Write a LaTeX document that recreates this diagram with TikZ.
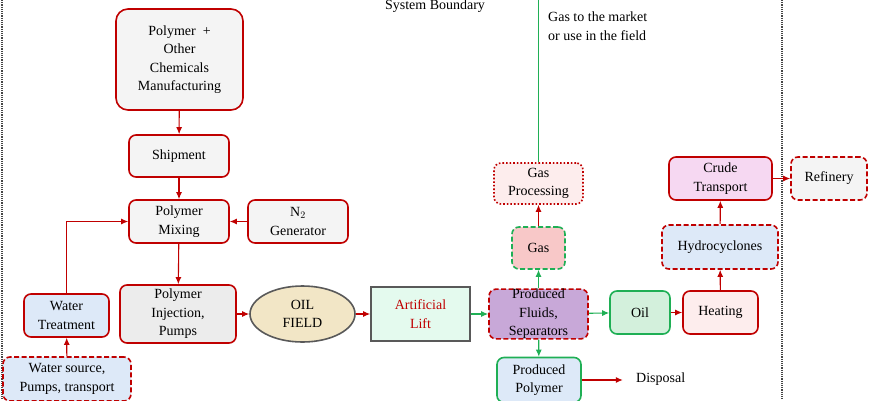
\documentclass[tikz,border=0pt]{standalone}
\usepackage{fontspec}
\setmainfont{Liberation Serif}
\usetikzlibrary{arrows.meta,shapes.geometric}

\definecolor{bred}{HTML}{C00000}
\definecolor{bgreen}{HTML}{1FAF55}
\definecolor{fgray}{HTML}{F4F4F4}
\definecolor{fgray2}{HTML}{ECECEC}
\definecolor{fblue}{HTML}{DDE9F8}
\definecolor{fbeige}{HTML}{F2E6C6}
\definecolor{fmint}{HTML}{E4FAEE}
\definecolor{fpurple}{HTML}{C8A8D8}
\definecolor{fpink}{HTML}{F8C8C8}
\definecolor{flpink}{HTML}{FDEDED}
\definecolor{fgreen}{HTML}{D3F0DC}
\definecolor{fmagenta}{HTML}{F6D8F2}

\begin{document}
\begin{tikzpicture}[x=1pt,y=-1pt,
  every node/.style={font=\fontsize{14}{18.5}\selectfont, align=center, inner sep=0pt},
  redbox/.style={draw=bred, line width=1.6pt, rounded corners=7pt},
  greenbox/.style={draw=bgreen, line width=1.6pt, rounded corners=7pt},
  dashline/.style={dash pattern=on 5pt off 2.5pt},
  boundary/.style={gray!55!black, line width=1.8pt, dash pattern=on 1.2pt off 1pt},
  redarr/.style={draw=bred, line width=1.1pt, -{Latex[length=7pt,width=6pt]}},
  greenarr/.style={draw=bgreen, line width=1.1pt, -{Latex[length=7pt,width=6pt]}}]
\useasboundingbox (0,0) rectangle (870,400);

% system boundary
\draw[boundary] (2,0) -- (2,400);
\draw[boundary] (782,0) -- (782,400);
\node (sysb) at (435,6) {System Boundary};

% polymer side
\node[redbox, rounded corners=12pt, fill=fgray, minimum width=127pt, minimum height=101pt] (manuf) at (179.5,59.5) {Polymer \ +\\Other\\Chemicals\\Manufacturing};
\node[redbox, fill=fgray, minimum width=100pt, minimum height=42pt] (ship) at (179,156) {Shipment};
\node[redbox, fill=fgray, minimum width=100pt, minimum height=43pt] (pmix) at (179,221.5) {Polymer\\Mixing};
\node[redbox, fill=fgray, minimum width=100pt, minimum height=43pt] (ngen) at (298,221.5) {N$_2$\\Generator};
\node[redbox, fill=fblue, minimum width=85pt, minimum height=43pt] (wtreat) at (66.5,315.5) {Water\\Treatment};
\node[redbox, dashline, fill=fblue, minimum width=128pt, minimum height=44pt] (wsrc) at (67,379) {Water source,\\Pumps, transport};
\node[redbox, fill=fgray2, minimum width=116pt, minimum height=58pt] (pinj) at (178,314) {Polymer\\Injection,\\Pumps};

% field
\node[ellipse, draw=gray!70!black, line width=1.6pt, fill=fbeige, minimum width=105pt, minimum height=56pt] (field) at (302.5,314) {OIL\\FIELD};
\node[draw=gray!70!black, line width=1.6pt, fill=fmint, minimum width=99pt, minimum height=54pt, text=bred] (lift) at (420.5,314) {Artificial\\Lift};
\node[redbox, dashline, fill=fpurple, minimum width=99pt, minimum height=48pt] (fluids) at (538.5,314) {Produced\\Fluids,\\Separators};

% gas
\node[greenbox, dashline, fill=fpink, minimum width=53pt, minimum height=42pt] (gas) at (538.5,248) {Gas};
\node[redbox, dotted, fill=flpink, minimum width=89pt, minimum height=41pt] (gproc) at (538.5,183.5) {Gas\\Processing};
\coordinate (market) at (538.5,0);
\node[anchor=west, align=left] (mtext) at (548,26) {Gas to the market\\or use in the field};

% produced polymer
\node[greenbox, fill=fblue, minimum width=84pt, minimum height=45pt] (ppoly) at (539,380) {Produced\\Polymer};
\node[anchor=west] (disp) at (636,379) {Disposal};

% oil
\node[greenbox, fill=fgreen, minimum width=60pt, minimum height=43pt] (oil) at (640,312.5) {Oil};
\node[redbox, fill=flpink, minimum width=75pt, minimum height=43pt] (heat) at (720.5,312.5) {Heating};
\node[redbox, dashline, fill=fblue, minimum width=116pt, minimum height=44pt] (hydro) at (720,247) {Hydrocyclones};
\node[redbox, fill=fmagenta, minimum width=103pt, minimum height=43pt] (crude) at (720.5,178.5) {Crude\\Transport};
\node[redbox, dashline, fill=fgray, minimum width=76pt, minimum height=43pt] (refin) at (829,178.5) {Refinery};

% connectors
\draw[redarr] (manuf) -- (ship);
\draw[redarr] (ship) -- (pmix);
\draw[redarr] (ngen) -- (pmix);
\draw[redarr] (wtreat.north) |- (pmix.west);
\draw[redarr] (wsrc) -- (wtreat);
\draw[redarr] (pmix) -- (pinj);
\draw[redarr] (pinj) -- (field);
\draw[redarr] (field) -- (lift);
\draw[greenarr] (lift) -- (fluids);
\draw[greenarr] (fluids) -- (gas);
\draw[redarr] (gas) -- (gproc);
\draw[bgreen, line width=1.1pt] (gproc) -- (market);
\draw[greenarr] (fluids) -- (ppoly);
\draw[redarr] (ppoly.east) -- ++(41,0) coordinate (dispin);
\draw[greenarr] (fluids) -- (oil);
\draw[redarr] (oil) -- (heat);
\draw[redarr] (heat) -- (hydro);
\draw[redarr] (hydro) -- (crude);
\draw[redarr] (crude) -- (refin);
\end{tikzpicture}
\end{document}
